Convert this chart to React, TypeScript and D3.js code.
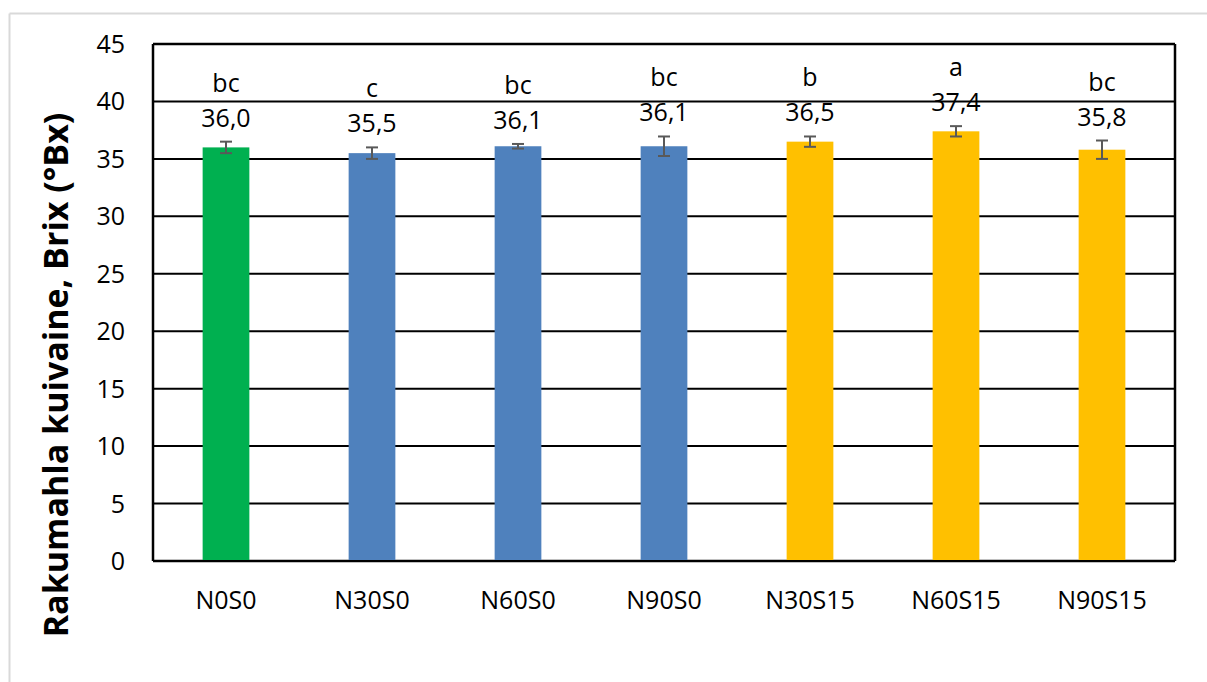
import React from "react";
import * as d3 from "d3";

const categories = ["N0S0", "N30S0", "N60S0", "N90S0", "N30S15", "N60S15", "N90S15"];
const values = [36.0, 35.5, 36.1, 36.1, 36.5, 37.4, 35.8];
const errors = [0.5, 0.5, 0.2, 0.85, 0.45, 0.45, 0.8];
const letters = ["bc", "c", "bc", "bc", "b", "a", "bc"];
const colors = ["#00B050", "#4F81BD", "#4F81BD", "#4F81BD", "#FFC000", "#FFC000", "#FFC000"];
const yTicks = [0, 5, 10, 15, 20, 25, 30, 35, 40, 45];
const yTitle = "Rakumahla kuivaine, Brix (°Bx)";

const W = 1207;
const H = 682;
const plot = { left: 153, right: 1175, top: 44, bottom: 561 };
const font = "'Open Sans', 'Noto Sans', sans-serif";
const fs = 25;

export default function App() {
  const x = d3.scaleBand<string>().domain(categories).range([plot.left, plot.right]).paddingInner(0.68).paddingOuter(0.34);
  const y = d3.scaleLinear().domain([0, 45]).range([plot.bottom, plot.top]);
  const fmt = (v: number) => v.toFixed(1).replace(".", ",");
  return (
    <svg width={W} height={H} style={{ position: "absolute", left: 0, top: 0, background: "#fff" }}>
      <rect x={0} y={0} width={W} height={H} fill="#fff" />
      <line x1={9.5} x2={W} y1={13.5} y2={13.5} stroke="#D9D9D9" strokeWidth={2} />
      <line x1={9.5} x2={9.5} y1={13.5} y2={H} stroke="#D9D9D9" strokeWidth={2} />
      {yTicks.map((t) => (
        <g key={t}>
          <line x1={plot.left} x2={plot.right} y1={y(t)} y2={y(t)} stroke="#000" strokeWidth={2} />
          <text x={125} y={y(t) + 9} textAnchor="end" fontFamily={font} fontSize={fs} fill="#000">
            {t}
          </text>
        </g>
      ))}
      <line x1={plot.left} x2={plot.left} y1={plot.top} y2={plot.bottom} stroke="#000" strokeWidth={2.5} />
      <line x1={plot.right} x2={plot.right} y1={plot.top} y2={plot.bottom} stroke="#000" strokeWidth={2.5} />
      <line x1={plot.left} x2={plot.right} y1={plot.top} y2={plot.top} stroke="#000" strokeWidth={2.5} />
      <line x1={plot.left} x2={plot.right} y1={plot.bottom} y2={plot.bottom} stroke="#000" strokeWidth={2.5} />
      {categories.map((c, i) => {
        const bx = x(c)!;
        const bw = x.bandwidth();
        const cx = bx + bw / 2;
        const v = values[i];
        const e = errors[i];
        const top = y(v + e);
        const bot = y(v - e);
        return (
          <g key={c}>
            <rect x={bx} y={y(v)} width={bw} height={y(0) - y(v) - 1} fill={colors[i]} />
            <line x1={cx} x2={cx} y1={top} y2={bot} stroke="#595959" strokeWidth={2} />
            <line x1={cx - 6} x2={cx + 6} y1={top} y2={top} stroke="#595959" strokeWidth={2} />
            <line x1={cx - 6} x2={cx + 6} y1={bot} y2={bot} stroke="#595959" strokeWidth={2} />
            <text x={cx} y={top - 15} textAnchor="middle" fontFamily={font} fontSize={fs} fill="#000">
              {fmt(v)}
            </text>
            <text x={cx} y={top - 50} textAnchor="middle" fontFamily={font} fontSize={fs} fill="#000">
              {letters[i]}
            </text>
            <text x={cx} y={609} textAnchor="middle" fontFamily={font} fontSize={fs} fill="#000">
              {c}
            </text>
          </g>
        );
      })}
      <text
        transform={`translate(68,375) rotate(-90)`}
        textAnchor="middle"
        fontFamily={font}
        fontWeight="bold"
        fontSize={34}
        fill="#000"
      >
        {yTitle}
      </text>
    </svg>
  );
}
